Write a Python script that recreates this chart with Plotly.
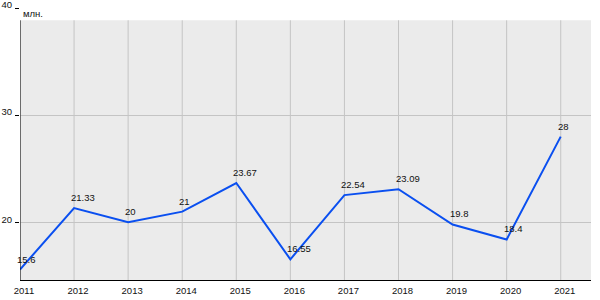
import plotly.graph_objects as go

years = [2011, 2012, 2013, 2014, 2015, 2016, 2017, 2018, 2019, 2020, 2021]
values = [15.6, 21.33, 20, 21, 23.67, 16.55, 22.54, 23.09, 19.8, 18.4, 28]
labels = ["15.6", "21.33", "20", "21", "23.67", "16.55", "22.54", "23.09", "19.8", "18.4", "28"]
y_ticks = [20, 30, 40]
unit_label = "млн."

Y_MIN, Y_MAX = 14.62, 40
BG_TOP = 38.85
X_MIN, X_MAX = 2011, 2021.56
FONT = "Liberation Sans, Arial, sans-serif"
FS = 9.5

fig = go.Figure()
fig.add_trace(go.Scatter(
    x=years, y=values, mode="lines",
    line=dict(color="#0a4ff0", width=2),
    hoverinfo="skip", showlegend=False, cliponaxis=False,
))

shapes = [dict(type="rect", xref="x", yref="y", x0=X_MIN, x1=X_MAX, y0=Y_MIN, y1=BG_TOP,
               fillcolor="#ebebeb", line=dict(width=0), layer="below")]
for yr in years:
    shapes.append(dict(type="line", xref="x", yref="y", x0=yr, x1=yr, y0=Y_MIN, y1=BG_TOP,
                       line=dict(color="#c4c4c4", width=1), layer="below"))
shapes.append(dict(type="line", xref="x", yref="y", x0=X_MIN, x1=X_MIN, y0=Y_MIN, y1=BG_TOP,
                   line=dict(color="#000000", width=1), layer="above"))

annotations = [dict(text=unit_label, xref="paper", yref="paper", x=0.002, y=1 - 5 / 272,
                    xanchor="left", yanchor="middle", showarrow=False,
                    font=dict(family=FONT, size=FS, color="#111111"))]
for yr, v, lab in zip(years, values, labels):
    annotations.append(dict(text=lab, x=yr, y=v, xref="x", yref="y", xanchor="left", yanchor="bottom",
                            showarrow=False, xshift=-4, yshift=4, borderpad=0,
                            font=dict(family=FONT, size=FS, color="#111111")))

fig.update_layout(
    width=600, height=300,
    margin=dict(l=20, r=9, t=8, b=20, autoexpand=False),
    paper_bgcolor="white", plot_bgcolor="white",
    font=dict(family=FONT, size=FS, color="#111111"),
    shapes=shapes,
    xaxis=dict(range=[X_MIN, X_MAX], tickvals=years, ticktext=[str(y) for y in years],
               showgrid=False, zeroline=False, showline=True, linecolor="#000000", linewidth=1,
               ticks="", ticklabelshift=4, ticklabelstandoff=2, automargin=False, fixedrange=True),
    yaxis=dict(range=[Y_MIN, Y_MAX], tickvals=y_ticks, ticktext=[str(v) for v in y_ticks],
               showgrid=True, gridcolor="#c4c4c4", gridwidth=1, zeroline=False, showline=False,
               ticks="outside", ticklen=4, tickcolor="#000000", ticklabelshift=-3, ticklabelstandoff=1,
               ticklabeloverflow="allow", automargin=False, fixedrange=True),
    annotations=annotations,
)

fig.write_html("out.html")
